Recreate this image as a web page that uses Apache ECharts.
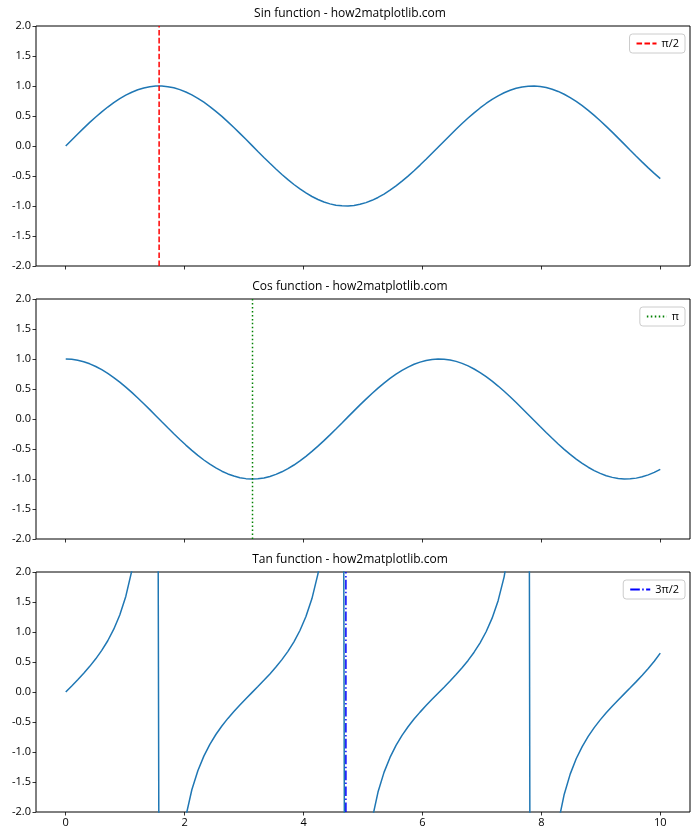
<!DOCTYPE html>
<html>
<head>
<meta charset="utf-8">
<script src="https://cdn.jsdelivr.net/npm/echarts@6/dist/echarts.min.js"></script>
<style>html,body{margin:0;padding:0;background:#fff}#c{width:700px;height:840px}</style>
</head>
<body>
<div id="c"></div>
<script>
const xs = [0,0.10101,0.20202,0.30303,0.40404,0.50505,0.60606,0.70707,0.80808,0.90909,1.0101,1.11111,1.21212,1.31313,1.41414,1.51515,1.61616,1.71717,1.81818,1.91919,2.0202,2.12121,2.22222,2.32323,2.42424,2.52525,2.62626,2.72727,2.82828,2.92929,3.0303,3.13131,3.23232,3.33333,3.43434,3.53535,3.63636,3.73737,3.83838,3.93939,4.0404,4.14141,4.24242,4.34343,4.44444,4.54545,4.64646,4.74747,4.84848,4.94949,5.05051,5.15152,5.25253,5.35354,5.45455,5.55556,5.65657,5.75758,5.85859,5.9596,6.06061,6.16162,6.26263,6.36364,6.46465,6.56566,6.66667,6.76768,6.86869,6.9697,7.07071,7.17172,7.27273,7.37374,7.47475,7.57576,7.67677,7.77778,7.87879,7.9798,8.08081,8.18182,8.28283,8.38384,8.48485,8.58586,8.68687,8.78788,8.88889,8.9899,9.09091,9.19192,9.29293,9.39394,9.49495,9.59596,9.69697,9.79798,9.89899,10];
const sinY = [0,0.10084,0.20065,0.29841,0.39314,0.48385,0.56963,0.64961,0.72296,0.78894,0.84689,0.89619,0.93636,0.96699,0.98775,0.99845,0.99897,0.98931,0.96956,0.93992,0.90071,0.85231,0.79522,0.73003,0.65739,0.57805,0.49282,0.40257,0.30821,0.21071,0.11106,0.01028,-0.0906,-0.19057,-0.28858,-0.38366,-0.47483,-0.56116,-0.64176,-0.71583,-0.78259,-0.84138,-0.89159,-0.93271,-0.96432,-0.9861,-0.99783,-0.99938,-0.99075,-0.97202,-0.94338,-0.90512,-0.85764,-0.80141,-0.73701,-0.6651,-0.58641,-0.50174,-0.41187,-0.31797,-0.22074,-0.12127,-0.02055,0.08037,0.18047,0.27873,0.37415,0.46576,0.55262,0.63385,0.70861,0.77615,0.83578,0.88688,0.92895,0.96155,0.98434,0.9971,0.99969,0.9921,0.97438,0.94674,0.90945,0.86288,0.80752,0.74392,0.67274,0.5947,0.51061,0.4213,0.3277,0.23076,0.13147,0.03083,-0.07011,-0.17035,-0.26884,-0.3646,-0.45664,-0.54402];
const cosY = [1,0.9949,0.97966,0.95444,0.91948,0.87515,0.8219,0.76027,0.69089,0.61446,0.53178,0.44367,0.35104,0.25483,0.15602,0.05562,-0.04535,-0.14585,-0.24487,-0.34139,-0.43443,-0.52304,-0.60632,-0.68342,-0.75355,-0.816,-0.87013,-0.91539,-0.95132,-0.97755,-0.99381,-0.99995,-0.99589,-0.98167,-0.95745,-0.92347,-0.88008,-0.82771,-0.7669,-0.69828,-0.62254,-0.54045,-0.45285,-0.36063,-0.26474,-0.16616,-0.06588,0.03507,0.13567,0.23489,0.33172,0.42515,0.51426,0.59812,0.67588,0.74676,0.81002,0.86502,0.91268,0.9481,0.97533,0.99262,0.99979,0.99676,0.98358,0.96037,0.92737,0.88491,0.83343,0.77346,0.7056,0.63055,0.54907,0.46199,0.37021,0.27465,0.17629,0.07613,-0.0248,-0.12549,-0.22489,-0.322,-0.41582,-0.50541,-0.58985,-0.66827,-0.73988,-0.80394,-0.85982,-0.90692,-0.94478,-0.97301,-0.99132,-0.99952,-0.99754,-0.98538,-0.96318,-0.93116,-0.88965,-0.83907];
const tanY = [0,0.10136,0.20482,0.31265,0.42757,0.55288,0.69307,0.85445,1.04642,1.28396,1.59256,2.01995,2.6674,3.7946,6.3309,17.951,-22.03,-6.7831,-3.9595,-2.7532,-2.0733,-1.6295,-1.3116,-1.0682,-0.87239,-0.7084,-0.56637,-0.43978,-0.32398,-0.21555,-0.11175,-0.01028,0.09097,0.19413,0.3014,0.41546,0.53953,0.67797,0.83682,1.02513,1.25709,1.55682,1.96884,2.5863,3.6425,5.9346,15.146,-28.497,-7.3026,-4.1382,-2.8439,-2.129,-1.6677,-1.3399,-1.0904,-0.89065,-0.72394,-0.58003,-0.45128,-0.33538,-0.22632,-0.12217,-0.02055,0.08063,0.18348,0.29023,0.40345,0.52634,0.66307,0.8195,1.00427,1.23091,1.52218,1.9197,2.5092,3.501,5.5836,13.097,-40.31,-7.9058,-4.3327,-2.9402,-2.1871,-1.7073,-1.369,-1.1132,-0.90926,-0.73973,-0.59386,-0.46454,-0.34685,-0.23716,-0.13262,-0.03084,0.07028,0.17288,0.27912,0.39155,0.51328,0.64836];
const vlineX = [1.5707963, 3.1415927, 4.712389];
const vlineNames = ['π/2', 'π', '3π/2'];
const titles = ['Sin function - how2matplotlib.com', 'Cos function - how2matplotlib.com', 'Tan function - how2matplotlib.com'];
const xTicks = [0, 2, 4, 6, 8, 10];
const yRange = [-2, 2];

const FONT = '"Open Sans", "Noto Sans", sans-serif';
const curves = [sinY, cosY, tanY];
const vColors = ['#ff0000', '#008000', '#0000ff'];
const vDash = [[5.55, 2.4], [1.5, 2.475], [9.6, 2.4, 1.5, 2.4]];
const tops = [26, 299, 572];
const H = 240;

const grids = [], xAxes = [], yAxes = [], series = [], legends = [], graphics = [];
for (let k = 0; k < 3; k++) {
  grids.push({left: 36, right: 10, top: tops[k], height: H, show: true, borderColor: '#000', borderWidth: 1, backgroundColor: 'transparent', containLabel: false});
  xAxes.push({
    type: 'value', gridIndex: k, min: -0.5, max: 10.5, position: 'bottom',
    axisLine: {show: false, onZero: false},
    splitLine: {show: false},
    axisTick: {show: true, inside: false, length: 3.5, lineStyle: {color: '#000', width: 0.8}, customValues: xTicks},
    axisLabel: {show: k === 2, customValues: xTicks, color: '#000', fontFamily: FONT, fontSize: 11, margin: 5}
  });
  yAxes.push({
    type: 'value', gridIndex: k, min: yRange[0], max: yRange[1], interval: 0.5, position: 'left',
    axisLine: {show: false, onZero: false},
    splitLine: {show: false},
    axisTick: {show: true, inside: false, length: 3.5, lineStyle: {color: '#000', width: 0.8}},
    axisLabel: {color: '#000', fontFamily: FONT, fontSize: 11, margin: 5, formatter: v => v.toFixed(1)}
  });
  series.push({
    type: 'line', xAxisIndex: k, yAxisIndex: k, name: 'curve' + k,
    data: xs.map((x, i) => [x, curves[k][i]]),
    showSymbol: false, symbol: 'none', clip: true,
    lineStyle: {color: '#1f77b4', width: 1.5}, itemStyle: {color: '#1f77b4'},
    animation: false, z: 2
  });
  series.push({
    type: 'line', xAxisIndex: k, yAxisIndex: k, name: vlineNames[k],
    data: [[vlineX[k], yRange[0]], [vlineX[k], yRange[1]]],
    showSymbol: false, symbol: 'none', clip: true,
    lineStyle: {color: vColors[k], width: 1.5, type: vDash[k]}, itemStyle: {color: vColors[k]},
    animation: false, z: 3
  });
  legends.push({
    data: [vlineNames[k]],
    right: 15, top: tops[k] + 8,
    orient: 'vertical',
    backgroundColor: '#fff', borderColor: '#cccccc', borderWidth: 1, borderRadius: 3,
    padding: [4, 6, 4, 6],
    itemWidth: 20, itemHeight: 10, itemGap: 4,
    itemStyle: {opacity: 0},
    textStyle: {color: '#000', fontFamily: FONT, fontSize: 11}
  });
  graphics.push({
    type: 'text', left: 'center', top: tops[k] - 18,
    style: {text: titles[k], fill: '#000', font: '12px ' + FONT}
  });
}

const chart = echarts.init(document.getElementById('c'), null, {renderer: 'canvas'});
chart.setOption({
  animation: false,
  backgroundColor: '#fff',
  grid: grids, xAxis: xAxes, yAxis: yAxes, series: series, legend: legends,
  graphic: graphics
});
</script>
</body>
</html>
